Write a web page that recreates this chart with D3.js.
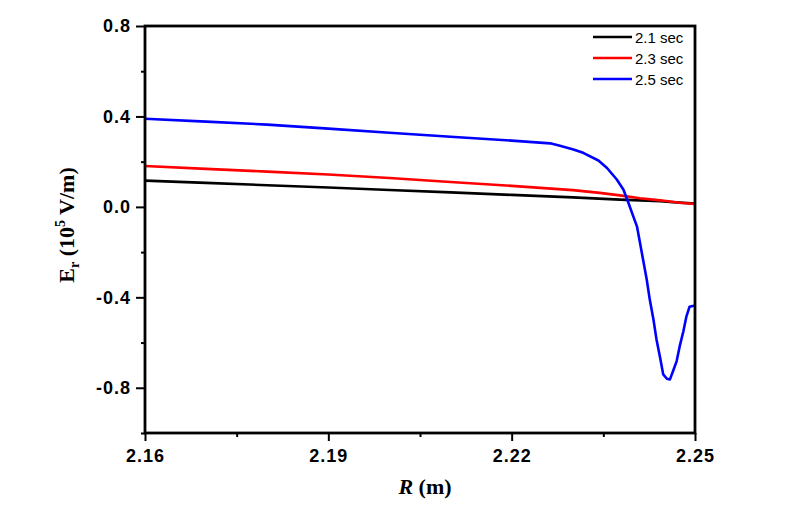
<!DOCTYPE html>
<html><head><meta charset="utf-8">
<script src="https://cdn.jsdelivr.net/npm/d3@7"></script>
<style>body{margin:0;background:#fff}svg{display:block}</style>
</head><body>
<script>
const seriesNames = ["2.1 sec","2.3 sec","2.5 sec"];
const seriesColors = ["#000000","#ff0000","#0000ff"];
const r21 = [2.16,2.17,2.18,2.19,2.20,2.21,2.22,2.23,2.2377,2.24,2.2443,2.2475,2.25];
const e21 = [0.116,0.106,0.096,0.086,0.075,0.064,0.053,0.042,0.032,0.030,0.025,0.019,0.015];
const r23 = [2.16,2.17,2.18,2.19,2.20,2.21,2.22,2.23,2.2344,2.2377,2.2410,2.2443,2.2475,2.25];
const e23 = [0.181,0.168,0.156,0.143,0.128,0.110,0.093,0.074,0.062,0.051,0.038,0.029,0.018,0.013];
const r25 = [2.16,2.17,2.18,2.19,2.20,2.21,2.22,2.2263,2.2279,2.2301,2.2317,2.2342,2.2356,2.2372,2.2383,2.2391,2.2399,2.2405,2.2410,2.2415,2.2421,2.2426,2.2432,2.2437,2.2443,2.2448,2.2454,2.2459,2.2464,2.2470,2.2475,2.2481,2.2486,2.2491,2.25];
const e25 = [0.390,0.377,0.364,0.346,0.328,0.310,0.293,0.281,0.270,0.254,0.239,0.205,0.172,0.121,0.076,0.018,-0.042,-0.086,-0.159,-0.233,-0.321,-0.410,-0.498,-0.586,-0.668,-0.741,-0.760,-0.763,-0.727,-0.682,-0.616,-0.550,-0.484,-0.442,-0.436];
const xTicks = [2.16,2.19,2.22,2.25];
const xMinor = [2.175,2.205,2.235];
const yTicks = [0.8,0.4,0.0,-0.4,-0.8];
const yMinor = [0.6,0.2,-0.2,-0.6,-1.0];

const W=807,H=510;
const svg=d3.select("body").append("svg").attr("width",W).attr("height",H);
const x=d3.scaleLinear().domain([2.16,2.25]).range([145,695]);
const y=d3.scaleLinear().domain([-1.0,0.8]).range([433,26]);

const series=[[r21,e21],[r23,e23],[r25,e25]];
const line=d3.line().x(d=>x(d[0])).y(d=>y(d[1]));
series.forEach((s,i)=>{
  const pts=s[0].map((r,j)=>[r,s[1][j]]);
  svg.append("path").datum(pts).attr("d",line).attr("fill","none")
    .attr("stroke",seriesColors[i]).attr("stroke-width",2.6).attr("stroke-linejoin","round");
});

// frame
svg.append("rect").attr("x",145).attr("y",26).attr("width",550).attr("height",407)
  .attr("fill","none").attr("stroke","#000").attr("stroke-width",2.8);

const tickFont="'Liberation Sans',Arial,sans-serif";
function styleAxis(g){
  g.select(".domain").remove();
  g.selectAll(".tick line").attr("stroke","#000").attr("stroke-width",2);
  g.selectAll(".tick text").attr("font-family",tickFont).attr("font-weight","bold")
    .attr("font-size","18px").attr("letter-spacing","1px").attr("fill","#000");
}
const xa=svg.append("g").attr("transform","translate(0,433)")
  .call(d3.axisBottom(x).tickValues(xTicks).tickFormat(d=>d.toFixed(2)).tickSize(8).tickPadding(8));
styleAxis(xa);
const xm=svg.append("g").attr("transform","translate(0,433)")
  .call(d3.axisBottom(x).tickValues(xMinor).tickFormat("").tickSize(4));
styleAxis(xm);
const ya=svg.append("g").attr("transform","translate(145,0)")
  .call(d3.axisLeft(y).tickValues(yTicks).tickFormat(d=>d.toFixed(1)).tickSize(9).tickPadding(5));
styleAxis(ya);
const ym=svg.append("g").attr("transform","translate(145,0)")
  .call(d3.axisLeft(y).tickValues(yMinor).tickFormat("").tickSize(4));
styleAxis(ym);

// axis titles
const serif="'Liberation Serif','Times New Roman',serif";
const xt=svg.append("text").attr("x",425).attr("y",494).attr("text-anchor","middle")
  .attr("font-family",serif).attr("font-weight","bold").attr("font-size","22px");
xt.append("tspan").attr("font-style","italic").text("R");
xt.append("tspan").text(" (m)");

const yt=svg.append("text").attr("transform","translate(74,225) rotate(-90)").attr("text-anchor","middle")
  .attr("font-family",serif).attr("font-weight","bold").attr("font-size","22px");
yt.append("tspan").text("E");
yt.append("tspan").attr("font-size","14px").attr("dy",5).text("r");
yt.append("tspan").attr("dy",-5).text(" (10");
yt.append("tspan").attr("font-size","14px").attr("dy",-9).text("5");
yt.append("tspan").attr("dy",9).text(" V/m)");

// legend
const lg=svg.append("g");
seriesNames.forEach((n,i)=>{
  const yy=37+i*21;
  lg.append("line").attr("x1",593).attr("x2",632).attr("y1",yy).attr("y2",yy)
    .attr("stroke",seriesColors[i]).attr("stroke-width",2.6);
  lg.append("text").attr("x",635).attr("y",yy+5.5).attr("font-family",tickFont)
    .attr("font-size","15px").attr("fill","#000").text(n);
});
</script>
</body></html>
